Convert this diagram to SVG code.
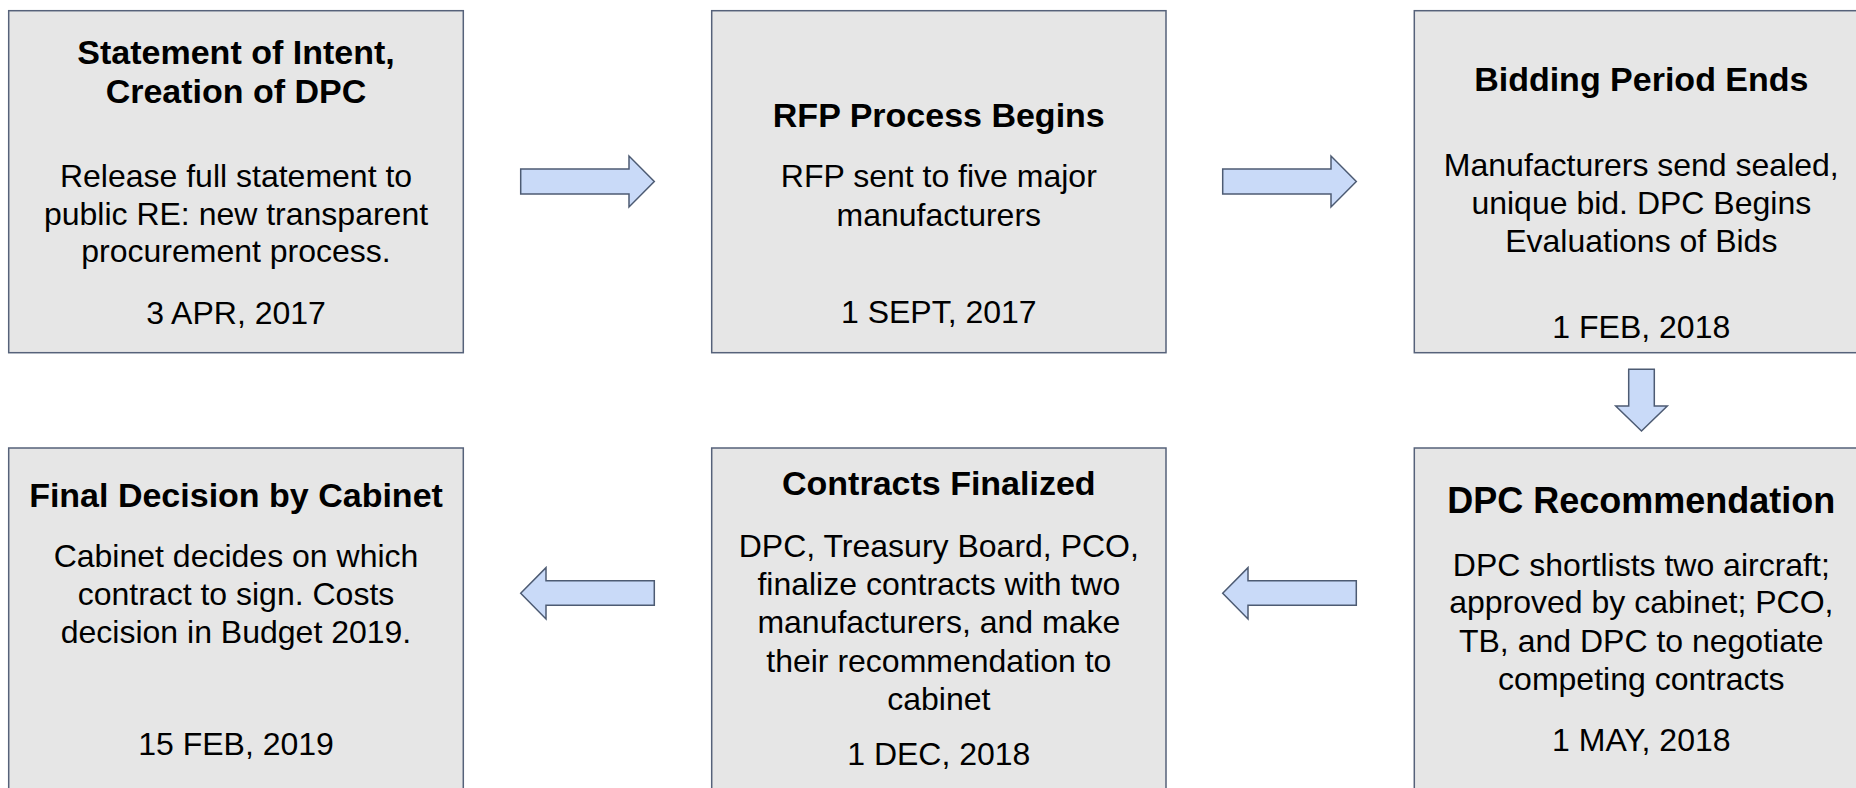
<svg xmlns="http://www.w3.org/2000/svg" width="1856" height="788" viewBox="0 0 1856 788">
  <style>
    .box { fill: #e6e6e6; stroke: #56627a; stroke-width: 1.5; }
    .arrow { fill: #c9daf8; stroke: #4d5b73; stroke-width: 1.5; stroke-linejoin: miter; }
    text { font-family: "Liberation Sans", Arial, sans-serif; fill: #000; text-anchor: middle; }
    .title { font-size: 34px; font-weight: bold; }
    .title-lg { font-size: 36px; font-weight: bold; }
    .body { font-size: 32px; }
  </style>
  <rect width="1856" height="788" fill="#ffffff"/>

  <!-- Top row -->
  <g id="statement-of-intent">
    <rect class="box" x="8.7" y="10.7" width="454.6" height="342"/>
    <text class="title" x="236" y="64">Statement of Intent,</text>
    <text class="title" x="236" y="103.3">Creation of DPC</text>
    <text class="body" x="236" y="186.7">Release full statement to</text>
    <text class="body" x="236" y="224.5">public RE: new transparent</text>
    <text class="body" x="236" y="261.7">procurement process.</text>
    <text class="body" x="236" y="324">3 APR, 2017</text>
  </g>

  <g id="rfp-process-begins">
    <rect class="box" x="711.7" y="10.7" width="454.3" height="342"/>
    <text class="title" x="938.8" y="126.7">RFP Process Begins</text>
    <text class="body" x="938.8" y="187.3">RFP sent to five major</text>
    <text class="body" x="938.8" y="226">manufacturers</text>
    <text class="body" x="938.8" y="323.3">1 SEPT, 2017</text>
  </g>

  <g id="bidding-period-ends">
    <rect class="box" x="1414.3" y="10.7" width="454" height="342"/>
    <text class="title" x="1641.3" y="90.7">Bidding Period Ends</text>
    <text class="body" x="1641.3" y="176">Manufacturers send sealed,</text>
    <text class="body" x="1641.3" y="213.5">unique bid. DPC Begins</text>
    <text class="body" x="1641.3" y="252">Evaluations of Bids</text>
    <text class="body" x="1641.3" y="338.3">1 FEB, 2018</text>
  </g>

  <!-- Bottom row -->
  <g id="dpc-recommendation">
    <rect class="box" x="1414.3" y="448" width="454" height="350"/>
    <text class="title-lg" x="1641.3" y="513.3">DPC Recommendation</text>
    <text class="body" x="1641.3" y="575.5">DPC shortlists two aircraft;</text>
    <text class="body" x="1641.3" y="613.3">approved by cabinet; PCO,</text>
    <text class="body" x="1641.3" y="651.7">TB, and DPC to negotiate</text>
    <text class="body" x="1641.3" y="689.5">competing contracts</text>
    <text class="body" x="1641.3" y="750.5">1 MAY, 2018</text>
  </g>

  <g id="contracts-finalized">
    <rect class="box" x="711.7" y="448" width="454.3" height="350"/>
    <text class="title" x="938.8" y="495">Contracts Finalized</text>
    <text class="body" x="938.8" y="557.3">DPC, Treasury Board, PCO,</text>
    <text class="body" x="938.8" y="595">finalize contracts with two</text>
    <text class="body" x="938.8" y="633.3">manufacturers, and make</text>
    <text class="body" x="938.8" y="671.7">their recommendation to</text>
    <text class="body" x="938.8" y="710">cabinet</text>
    <text class="body" x="938.8" y="765">1 DEC, 2018</text>
  </g>

  <g id="final-decision">
    <rect class="box" x="8.7" y="448" width="454.6" height="350"/>
    <text class="title" x="236" y="506.7">Final Decision by Cabinet</text>
    <text class="body" x="236" y="566.7">Cabinet decides on which</text>
    <text class="body" x="236" y="605">contract to sign. Costs</text>
    <text class="body" x="236" y="643.3">decision in Budget 2019.</text>
    <text class="body" x="236" y="755">15 FEB, 2019</text>
  </g>

  <!-- Block arrows between steps -->
  <g id="connectors">
    <polygon class="arrow" points="520.7,169 629,169 629,156 654.3,181.5 629,207 629,194 520.7,194"/>
    <polygon class="arrow" points="1222.7,169 1331,169 1331,156 1356.3,181.5 1331,207 1331,194 1222.7,194"/>
    <polygon class="arrow" points="1628.7,369.3 1654.3,369.3 1654.3,406 1667.3,406 1641.5,431 1615.7,406 1628.7,406"/>
    <polygon class="arrow" points="1356.3,580.7 1248,580.7 1248,567.7 1222.7,593.3 1248,619 1248,605.3 1356.3,605.3"/>
    <polygon class="arrow" points="654.3,580.7 546,580.7 546,567.7 520.7,593.3 546,619 546,605.3 654.3,605.3"/>
  </g>
</svg>
